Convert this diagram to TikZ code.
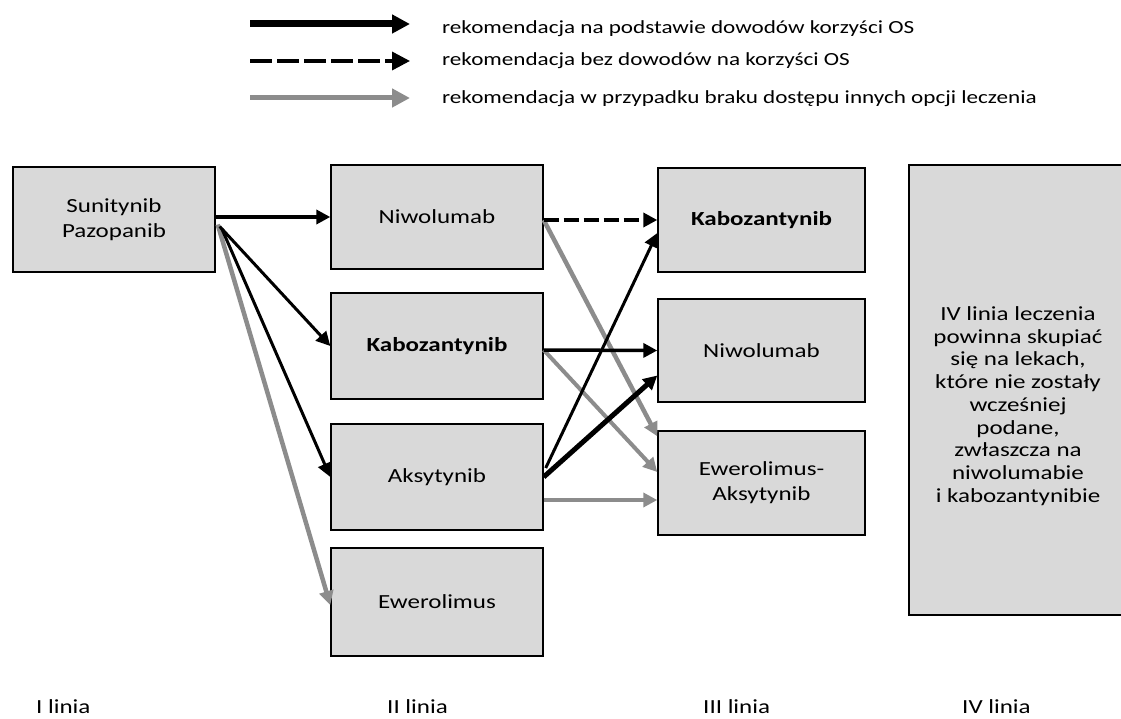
\documentclass[tikz,border=0pt]{standalone}
\usepackage{fontspec}
\setmainfont{Carlito}[FakeStretch=1.25]
\usetikzlibrary{arrows.meta,calc}
\definecolor{boxfill}{HTML}{D9D9D9}
\definecolor{arrgray}{HTML}{8C8C8C}
\begin{document}
\begin{tikzpicture}[x=1pt,y=-1pt,
  box/.style={draw=black, line width=1.4pt, fill=boxfill, inner sep=0pt, align=center,
    font=\fontsize{20}{25}\selectfont},
  lab/.style={inner sep=0pt, font=\fontsize{20}{25}\selectfont},
  legtext/.style={inner sep=0pt, anchor=west, font=\fontsize{18.5}{22}\selectfont},
  tipS/.style={-{Triangle[length=14pt,width=14pt]}},
  tipL/.style={-{Triangle[length=18pt,width=18pt]}},
  blk/.style={draw=black, line width=3pt, tipS},
  blkthick/.style={draw=black, line width=5pt, tipS},
  gry/.style={draw=arrgray, line width=4.5pt, tipS},
  dsh/.style={draw=black, line width=3.5pt, dash pattern=on 15pt off 5pt, tipS},
  legsolid/.style={draw=black, line width=7pt, tipL},
  legdash/.style={draw=black, line width=3.5pt, dash pattern=on 22pt off 5pt, tipL},
  leggray/.style={draw=arrgray, line width=5pt, tipL}
]
\useasboundingbox (0,0) rectangle (1121,719);
\clip (0,0) rectangle (1121,719);

% legend
\coordinate (l1a) at (250,24);  \coordinate (l1b) at (410,24);
\coordinate (l2a) at (250,61);  \coordinate (l2b) at (410,61);
\coordinate (l3a) at (250,98);  \coordinate (l3b) at (410,98);
\draw[legsolid] (l1a) -- (l1b);
\draw[legdash] (l2a) -- (l2b);
\draw[leggray] (l3a) -- (l3b);
\node[legtext] (t1) at (442,29) {rekomendacja na podstawie dowodów korzyści OS};
\node[legtext] (t2) at (442,61) {rekomendacja bez dowodów na korzyści OS};
\node[legtext] (t3) at (442,99) {rekomendacja w przypadku braku dostępu innych opcji leczenia};

% boxes
\node[box, minimum width=202pt, minimum height=105pt] (src) at (114,219.5) {Sunitynib\\Pazopanib};

\node[box, minimum width=212pt, minimum height=104pt] (niw2) at (437,217) {Niwolumab};
\node[box, minimum width=212pt, minimum height=106pt] (kab2) at (437,346) {\bfseries Kabozantynib};
\node[box, minimum width=212pt, minimum height=106pt] (aks2) at (437,477) {Aksytynib};
\node[box, minimum width=212pt, minimum height=108pt] (ewe2) at (437,602) {Ewerolimus};

\node[box, minimum width=207pt, minimum height=104pt] (kab3) at (761.5,220) {\bfseries Kabozantynib};
\node[box, minimum width=207pt, minimum height=103pt] (niw3) at (761.5,350.5) {Niwolumab};
\node[box, minimum width=207pt, minimum height=104pt] (ewe3) at (761.5,483) {Ewerolimus-\\Aksytynib};

\node[box, minimum width=222pt, minimum height=450pt] (iv) at (1020,390) {};
\node[inner sep=0pt, align=center, font=\fontsize{20}{22.7}\selectfont] (ivt) at (1018,406)
  {IV linia leczenia\\powinna skupiać\\się na lekach,\\które nie zostały\\wcześniej\\podane,\\zwłaszcza na\\niwolumabie\\i kabozantynibie};

% column labels
\node[lab, anchor=base west] (c1) at (36,713) {I linia};
\node[lab, anchor=base west] (c2) at (387,713) {II linia};
\node[lab, anchor=base west] (c3) at (703,713) {III linia};
\node[lab, anchor=base west] (c4) at (962,713) {IV linia};

% I -> II
\draw[gry] ($(src.east)+(2,5)$) -- ($(ewe2.west)+(0,3)$);
\draw[blk] ($(src.east)+(4,7)$) -- (kab2.west);
\draw[blk] ($(src.east)+(6,9)$) -- (aks2.west);
\draw[blk, line width=3.5pt] ($(src.east)+(0,-2.5)$) -- (niw2.west);

% II -> III
\draw[gry] ($(niw2.east)+(0,3)$) -- ($(ewe3.north west)+(0,6)$);
\draw[gry, line width=4pt] ($(kab2.east)+(0,4)$) -- ($(ewe3.west)+(0,-11)$);
\draw[gry] ($(aks2.east)+(0,23)$) -- ($(ewe3.west)+(0,17)$);
\draw[dsh] ($(niw2.east)+(0,3)$) -- (kab3.west);
\draw[blk, line width=3.5pt] ($(kab2.east)+(0,4)$) -- (niw3.west);
\draw[blk] ($(aks2.east)+(2,-9)$) -- ($(kab3.west)+(0,13)$);
\draw[blkthick] (aks2.east) -- ($(niw3.west)+(0,25)$);
\end{tikzpicture}
\end{document}
